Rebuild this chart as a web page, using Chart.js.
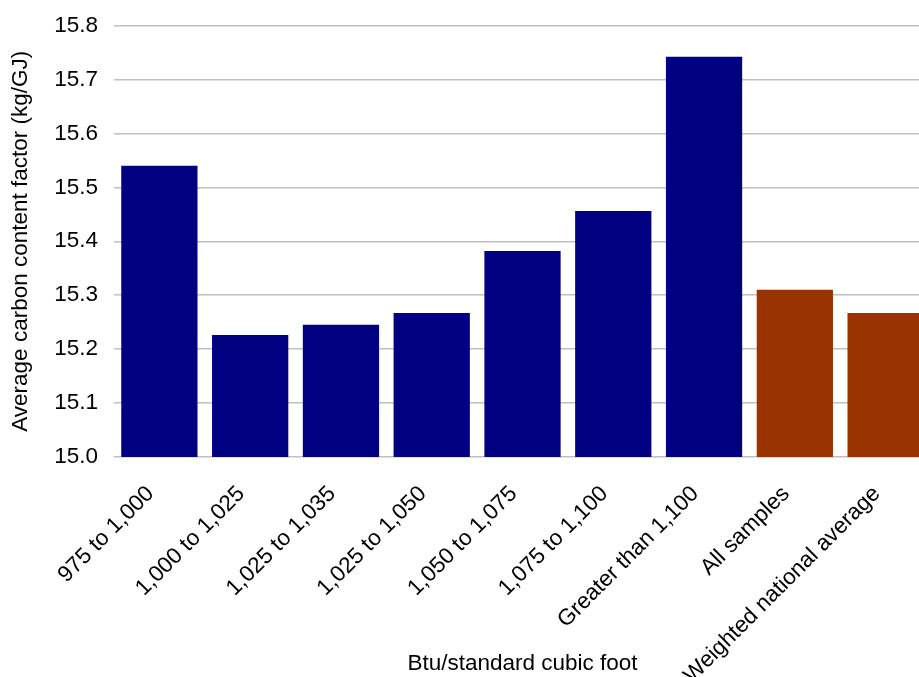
<!DOCTYPE html>
<html lang="en">
<head>
    <meta charset="UTF-8">
    <title>Average carbon content factor by heat content</title>
    <script src="https://cdn.jsdelivr.net/npm/chart.js@4.4.1/dist/chart.umd.min.js"></script>
    <style>
        html, body {
            margin: 0;
            padding: 0;
            background: #ffffff;
            overflow: hidden;
        }
        /* plot runs a little past the right edge, like the original export */
        .canvas-wrapper {
            width: 931px;
            height: 677px;
            position: relative;
        }
    </style>
</head>
<body>

<div class="canvas-wrapper">
    <canvas id="carbonChart"></canvas>
</div>

<script>
    // --- DATA ---
    const categories = [
        '975 to 1,000',
        '1,000 to 1,025',
        '1,025 to 1,035',
        '1,025 to 1,050',
        '1,050 to 1,075',
        '1,075 to 1,100',
        'Greater than 1,100',
        'All samples',
        'Weighted national average'
    ];
    const carbonFactor = [15.54, 15.226, 15.245, 15.267, 15.382, 15.456, 15.742, 15.31, 15.267];
    const yTicks = [15.0, 15.1, 15.2, 15.3, 15.4, 15.5, 15.6, 15.7, 15.8];

    // first seven are heat-content bins (navy), last two are averages (brown)
    const barColors = categories.map((c, i) => i < 7 ? '#000080' : '#993300');

    const font = "Arial, 'Liberation Sans', sans-serif";
    const fontSize = 22.5;

    const ctx = document.getElementById('carbonChart').getContext('2d');
    new Chart(ctx, {
        type: 'bar',
        data: {
            labels: categories,
            datasets: [{
                data: carbonFactor,
                backgroundColor: barColors,
                borderWidth: 0,
                categoryPercentage: 1.0,
                barPercentage: 0.84
            }]
        },
        options: {
            responsive: true,
            maintainAspectRatio: false,
            animation: false,
            layout: {
                padding: { top: 0, right: 0, bottom: 0, left: 0 }
            },
            plugins: {
                legend: { display: false },
                tooltip: { enabled: false }
            },
            scales: {
                x: {
                    grid: { display: false, drawTicks: false },
                    border: { display: false },
                    // long rotated labels run into the title area, as in the original
                    afterFit: axis => { axis.height = 220; },
                    ticks: {
                        autoSkip: false,
                        maxRotation: 45,
                        minRotation: 45,
                        padding: 15,
                        color: '#000000',
                        font: { family: font, size: fontSize },
                        // trailing gap nudges the rotated labels a bit left of the tick
                        callback: (v, i) => categories[i] + '  '
                    },
                    title: {
                        display: true,
                        text: 'Btu/standard cubic foot',
                        color: '#000000',
                        font: { family: font, size: fontSize },
                        padding: { top: 0, bottom: 0 }
                    }
                },
                y: {
                    min: 15.0,
                    max: 15.8,
                    afterFit: axis => {
                        axis.width = 114;
                        axis.paddingTop = 25.5;
                        axis.paddingBottom = 0;
                    },
                    afterBuildTicks: axis => {
                        axis.ticks = yTicks.map(v => ({ value: v }));
                    },
                    grid: {
                        color: '#c0c0c0',
                        lineWidth: 1.5,
                        drawTicks: false
                    },
                    border: { display: false },
                    ticks: {
                        padding: 16,
                        color: '#000000',
                        font: { family: font, size: fontSize },
                        callback: v => v.toFixed(1)
                    },
                    title: {
                        display: true,
                        text: 'Average carbon content factor (kg/GJ)',
                        color: '#000000',
                        font: { family: font, size: fontSize },
                        padding: { top: 7, bottom: 0 }
                    }
                }
            }
        }
    });
</script>

</body>
</html>
